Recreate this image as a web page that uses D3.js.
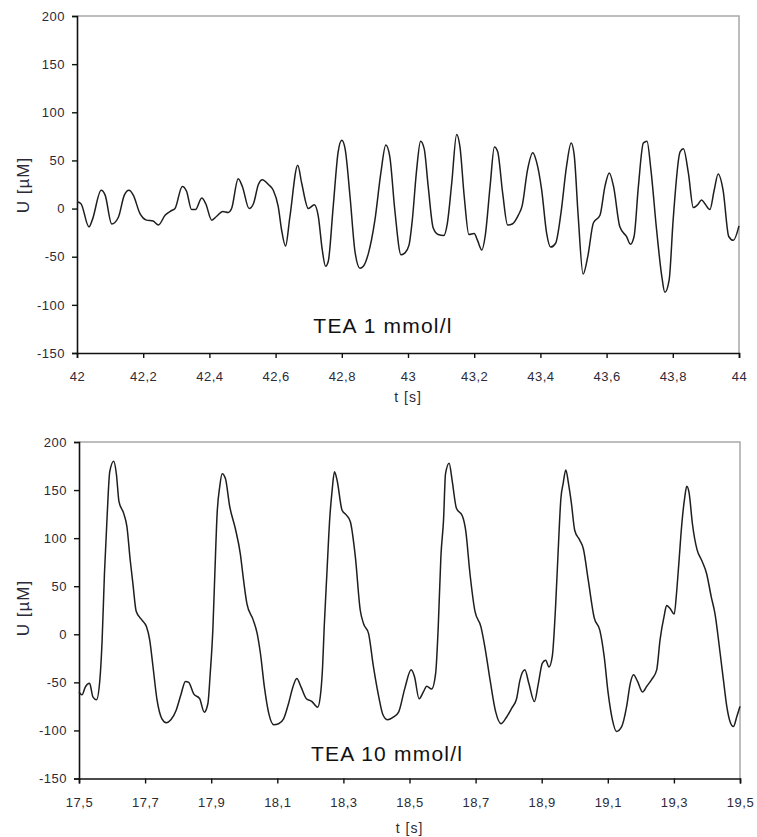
<!DOCTYPE html>
<html>
<head>
<meta charset="utf-8">
<script src="https://cdn.jsdelivr.net/npm/d3@7"></script>
<style>
  body { margin: 0; background: #fff; }
  svg { display: block; }
  text { font-family: "Liberation Sans", Arial, sans-serif; }
</style>
</head>
<body>
<svg id="chart" width="757" height="837"></svg>
<script>
// Recording 1: TEA 1 mmol/l, t in seconds, U in µM
const tea1Time = [42.0, 42.012, 42.036, 42.046, 42.073, 42.085, 42.105, 42.125, 42.143, 42.157, 42.17, 42.19, 42.21, 42.23, 42.246, 42.266, 42.286, 42.296, 42.318, 42.331, 42.346, 42.358, 42.377, 42.389, 42.407, 42.422, 42.44, 42.457, 42.467, 42.487, 42.4995, 42.52, 42.533, 42.548, 42.56, 42.578, 42.593, 42.608, 42.618, 42.63, 42.643, 42.667, 42.679, 42.699, 42.717, 42.729, 42.741, 42.751, 42.759, 42.774, 42.789, 42.8, 42.81, 42.825, 42.84, 42.855, 42.865, 42.88, 42.9, 42.918, 42.933, 42.945, 42.96, 42.979, 42.991, 43.003, 43.013, 43.026, 43.038, 43.049, 43.061, 43.076, 43.091, 43.108, 43.119, 43.132, 43.147, 43.157, 43.17, 43.184, 43.2, 43.21, 43.223, 43.233, 43.248, 43.261, 43.271, 43.286, 43.301, 43.315, 43.333, 43.345, 43.361, 43.377, 43.388, 43.404, 43.419, 43.431, 43.446, 43.462, 43.479, 43.493, 43.502, 43.514, 43.529, 43.543, 43.56, 43.58, 43.595, 43.608, 43.621, 43.64, 43.66, 43.672, 43.683, 43.696, 43.711, 43.722, 43.734, 43.751, 43.767, 43.776, 43.789, 43.801, 43.822, 43.832, 43.847, 43.862, 43.875, 43.887, 43.897, 43.912, 43.925, 43.937, 43.952, 43.969, 43.983, 44.0];
const tea1Value = [7, 5, -19, -12, 19, 14, -16, -9, 14, 19, 14, -5, -12, -13, -17, -7, -2, 0, 23, 18, -1, -1, 11, 5, -12, -8, -3, -4, 0, 31, 23, 0, 5, 25, 30, 25, 19, 2, -22, -39, -9, 45, 26, 0, 4, -8, -43, -60, -55, 2, 59, 71, 62, 12, -45, -62, -60, -47, -12, 37, 66, 54, -1, -48, -46, -38, -12, 40, 70, 62, 23, -20, -27, -28, -15, 26, 77, 64, 12, -27, -26, -33, -43, -29, 23, 64, 59, 16, -17, -16, -7, 3, 40, 58, 49, 19, -26, -40, -36, -5, 44, 68, 56, -7, -68, -50, -15, -7, 23, 37, 23, -19, -29, -37, -29, 23, 68, 70, 40, -22, -71, -87, -74, -12, 59, 62, 37, 1, 4, 9, 5, -1, 19, 36, 19, -29, -33, -18];

// Recording 2: TEA 10 mmol/l
const tea10Time = [17.5, 17.509, 17.519, 17.532, 17.542, 17.553, 17.563, 17.57, 17.577, 17.585, 17.593, 17.605, 17.613, 17.621, 17.635, 17.645, 17.655, 17.663, 17.673, 17.69, 17.704, 17.714, 17.724, 17.736, 17.751, 17.764, 17.778, 17.794, 17.809, 17.822, 17.832, 17.847, 17.865, 17.879, 17.89, 17.897, 17.905, 17.911, 17.918, 17.926, 17.933, 17.943, 17.956, 17.973, 17.988, 17.998, 18.008, 18.027, 18.039, 18.049, 18.061, 18.074, 18.089, 18.104, 18.119, 18.134, 18.147, 18.159, 18.172, 18.188, 18.205, 18.215, 18.222, 18.23, 18.237, 18.242, 18.25, 18.259, 18.266, 18.273, 18.281, 18.296, 18.309, 18.321, 18.336, 18.351, 18.361, 18.376, 18.391, 18.407, 18.42, 18.434, 18.452, 18.467, 18.486, 18.505, 18.515, 18.529, 18.542, 18.552, 18.567, 18.579, 18.587, 18.595, 18.603, 18.609, 18.62, 18.629, 18.642, 18.66, 18.67, 18.683, 18.698, 18.716, 18.728, 18.744, 18.761, 18.777, 18.794, 18.809, 18.824, 18.834, 18.849, 18.861, 18.878, 18.89, 18.902, 18.912, 18.922, 18.932, 18.942, 18.95, 18.958, 18.965, 18.973, 18.981, 18.99, 19.0, 19.015, 19.026, 19.041, 19.059, 19.076, 19.089, 19.101, 19.114, 19.126, 19.142, 19.157, 19.168, 19.178, 19.19, 19.205, 19.218, 19.233, 19.248, 19.258, 19.271, 19.278, 19.288, 19.301, 19.308, 19.315, 19.324, 19.333, 19.339, 19.346, 19.356, 19.37, 19.384, 19.399, 19.413, 19.424, 19.44, 19.45, 19.46, 19.47, 19.48, 19.49, 19.5];
const tea10Value = [-60, -63, -55, -51, -65, -68, -48, -6, 63, 122, 169, 180, 167, 138, 126, 112, 77, 53, 24, 15, 8, -6, -34, -68, -88, -92, -89, -79, -62, -49, -50, -62, -67, -81, -72, -41, 5, 63, 126, 154, 167, 162, 133, 110, 84, 56, 32, 15, 1, -20, -55, -82, -94, -93, -88, -72, -55, -46, -55, -67, -70, -74, -76, -65, -34, 8, 63, 122, 150, 169, 160, 129, 124, 117, 81, 25, 11, 1, -34, -65, -84, -89, -86, -81, -56, -37, -44, -67, -60, -54, -57, -41, 8, 81, 119, 167, 178, 160, 131, 123, 108, 63, 24, 8, -13, -48, -81, -93, -86, -77, -67, -48, -37, -51, -70, -51, -30, -27, -34, -23, 29, 88, 141, 157, 171, 157, 136, 108, 98, 89, 56, 17, 4, -23, -61, -89, -101, -96, -75, -51, -42, -49, -60, -54, -47, -37, -6, 20, 30, 27, 21, 43, 74, 115, 143, 154, 147, 115, 88, 77, 63, 39, 22, -20, -48, -75, -91, -96, -86, -75];

// Axis ticks and labels
const yTicks = [200, 150, 100, 50, 0, -50, -100, -150];
const xTicksTop = [42, 42.2, 42.4, 42.6, 42.8, 43, 43.2, 43.4, 43.6, 43.8, 44];
const xTicksBottom = [17.5, 17.7, 17.9, 18.1, 18.3, 18.5, 18.7, 18.9, 19.1, 19.3, 19.5];
const panelLabels = ["TEA 1 mmol/l", "TEA 10 mmol/l"];
const xTitle = "t [s]";
const yTitle = "U [µM]";

const svg = d3.select("#chart");
const commaFmt = v => (Math.round(v * 10) / 10).toString().replace(".", ",");
const textColor = "#2c2a38";

function panel(opts) {
  const { left, right, top, bottom, xDomain, xTicks, times, values, label, labelX, labelY, xTitleY, yTitleY } = opts;
  const x = d3.scaleLinear().domain(xDomain).range([left, right]);
  const y = d3.scaleLinear().domain([-150, 200]).range([bottom, top]);
  const g = svg.append("g");

  // frame: grey top and right edges
  g.append("path")
    .attr("d", `M${left},${top}H${right}V${bottom}`)
    .attr("fill", "none").attr("stroke", "#a8a8a8").attr("stroke-width", 1.5);

  // y axis
  const ya = g.append("g").attr("transform", `translate(${left},0)`)
    .call(d3.axisLeft(y).tickValues(yTicks).tickSize(5).tickPadding(7).tickFormat(d => d));
  // x axis
  const xa = g.append("g").attr("transform", `translate(0,${bottom})`)
    .call(d3.axisBottom(x).tickValues(xTicks).tickSize(5).tickPadding(14).tickFormat(commaFmt));

  [ya, xa].forEach(a => {
    a.select(".domain").attr("stroke", "#111").attr("stroke-width", 1.6);
    a.selectAll(".tick line").attr("stroke", "#111").attr("stroke-width", 1.4);
    a.selectAll(".tick text").attr("fill", textColor)
      .style("font-size", "13px").style("letter-spacing", "0.5px")
      .style("font-family", "'Liberation Sans', Arial, sans-serif");
  });

  // signal trace
  const pts = times.map((t, i) => [t, values[i]]);
  g.append("path")
    .datum(pts)
    .attr("fill", "none")
    .attr("stroke", "#1e1e1e")
    .attr("stroke-width", 1.5)
    .attr("stroke-linejoin", "round")
    .attr("d", d3.line().curve(d3.curveMonotoneX).x(d => x(d[0])).y(d => y(d[1])));

  // condition label
  g.append("text").attr("x", labelX).attr("y", labelY)
    .attr("text-anchor", "middle").attr("dominant-baseline", "middle")
    .style("font-size", "21px").style("letter-spacing", "1.2px")
    .attr("fill", "#111").text(label);

  // axis titles
  g.append("text").attr("x", (left + right) / 2).attr("y", xTitleY)
    .attr("text-anchor", "middle").attr("dominant-baseline", "middle")
    .style("font-size", "14px").style("letter-spacing", "1px")
    .attr("fill", textColor).text(xTitle);
  g.append("text")
    .attr("transform", `translate(25,${yTitleY}) rotate(-90)`)
    .attr("text-anchor", "middle").attr("dominant-baseline", "middle")
    .style("font-size", "17px").style("letter-spacing", "1px")
    .attr("fill", textColor).text(yTitle);
}

panel({ left: 77, right: 739, top: 16, bottom: 353, xDomain: [42, 44], xTicks: xTicksTop,
  times: tea1Time, values: tea1Value, label: panelLabels[0], labelX: 383, labelY: 327,
  xTitleY: 398, yTitleY: 185 });

panel({ left: 79, right: 740, top: 442, bottom: 778.5, xDomain: [17.5, 19.5], xTicks: xTicksBottom,
  times: tea10Time, values: tea10Value, label: panelLabels[1], labelX: 387, labelY: 755,
  xTitleY: 829, yTitleY: 608 });
</script>
</body>
</html>
